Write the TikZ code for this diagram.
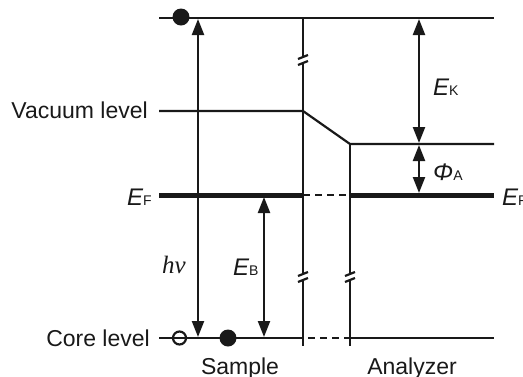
\documentclass[tikz,border=0pt]{standalone}
\usepackage{fontspec}
\setmainfont{Liberation Sans}
\newfontfamily\serifit{Liberation Serif}
\usetikzlibrary{arrows.meta}
\newcommand{\sub}[1]{{\fontsize{14}{14}\selectfont #1}}
\newcommand{\En}{{\fontsize{24}{26}\selectfont\itshape E}}
\tikzset{
  lvl/.style={line width=2.2pt, draw=black!90},
  fermi/.style={line width=5pt, draw=black!90},
  dashline/.style={line width=2.2pt, draw=black!90, dash pattern=on 7pt off 5pt},
  dashthick/.style={line width=2.5pt, draw=black!90, dash pattern=on 7pt off 5pt},
  vline/.style={line width=2.2pt, draw=black!90},
  dbl/.style={line width=2.2pt, draw=black!90, {Triangle[length=16pt,width=12pt]}-{Triangle[length=16pt,width=12pt]}},
  lab/.style={inner sep=0pt, font=\fontsize{23}{27}\selectfont, text=black!90},
  brk/.style={line width=2.2pt, draw=black!90},
  dot/.style={circle, fill=black!90, minimum size=17pt, inner sep=0pt},
  hole/.style={circle, draw=black!90, line width=2.2pt, minimum size=13pt, inner sep=0pt}
}
\begin{document}
\begin{tikzpicture}[x=1pt,y=-1pt]
\useasboundingbox (0,0) rectangle (523,376);
% coordinates
\coordinate (topL) at (159,18);
\coordinate (topR) at (494,18);
\coordinate (vacL) at (159,111);
\coordinate (vacS) at (303,111);
\coordinate (vacA) at (350,144);
\coordinate (vacR) at (494,144);
\coordinate (efL) at (159,195);
\coordinate (efS) at (303,195);
\coordinate (efA) at (350,195);
\coordinate (efR) at (494,195);
\coordinate (coreL) at (159,338);
\coordinate (coreS) at (303,338);
\coordinate (coreA) at (350,338);
\coordinate (coreR) at (494,338);
% levels
\draw[lvl] (topL) -- (topR);
\draw[lvl] (vacL) -- (vacS) -- (vacA) -- (vacR);
\draw[fermi] (efL) -- (efS);
\draw[dashthick] (efS) -- (efA);
\draw[fermi] (efA) -- (efR);
\draw[lvl] (coreL) -- (coreS);
\draw[dashline] ([xshift=5pt]coreS) -- (coreA);
\draw[lvl] (coreA) -- (coreR);
% verticals with breaks
\coordinate (sTop) at (303,17);
\coordinate (sB1a) at (303,56);
\coordinate (sB1b) at (303,64);
\coordinate (sB2a) at (303,273);
\coordinate (sB2b) at (303,281);
\coordinate (sBot) at (303,346);
\draw[vline] (sTop) -- (sB1a);
\draw[vline] (sB1b) -- (sB2a);
\draw[vline] (sB2b) -- (sBot);
\coordinate (aTop) at (350,143);
\coordinate (aB2a) at (350,273);
\coordinate (aB2b) at (350,281);
\coordinate (aBot) at (350,346);
\draw[vline] (aTop) -- (aB2a);
\draw[vline] (aB2b) -- (aBot);
\foreach \c in {sB1a,sB2a,aB2a}{
  \draw[brk] ([shift={(-5,3)}]\c) -- ([shift={(5,-1)}]\c);
}
\foreach \c in {sB1b,sB2b,aB2b}{
  \draw[brk] ([shift={(-5,1)}]\c) -- ([shift={(5,-3)}]\c);
}
% arrows
\coordinate (hvT) at (198,19);
\coordinate (hvB) at (198,337);
\draw[dbl] (hvT) -- (hvB);
\coordinate (ebT) at (264,197);
\coordinate (ebB) at (264,337);
\draw[dbl] (ebT) -- (ebB);
\coordinate (ekT) at (419,19);
\coordinate (ekB) at (419,143);
\draw[dbl] (ekT) -- (ekB);
\coordinate (paT) at (419,145);
\coordinate (paB) at (419,193);
\draw[dbl] (paT) -- (paB);
% electrons
\node[dot] (e1) at (181,17) {};
\node[hole] (h1) at (179.5,338) {};
\node[dot] (e2) at (228,338) {};
% labels
\node[lab, anchor=base east] (tvac) at (148,118) {Vacuum level};
\node[lab, anchor=base east] (tcore) at (150,346) {Core level};
\node[lab, anchor=base east] (tefl) at (152,205) {\En\sub{F}};
\node[lab, anchor=base west] (tefr) at (502,205) {\En\sub{F}};
\node[lab, anchor=base west] (tek) at (433,95) {\En\sub{K}};
\node[lab, anchor=base west] (tpa) at (433,180) {{\fontsize{24}{26}\selectfont\itshape Φ}\sub{A}};
\node[lab, anchor=base west] (teb) at (233,275) {\En\sub{B}};
\node[lab, anchor=base west] (thv) at (162,273) {{\fontsize{25}{27}\selectfont\serifit\itshape hν}};
\node[lab, anchor=base] (tsam) at (240,374.5) {Sample};
\node[lab, anchor=base] (tana) at (412,374.5) {Analyzer};
\end{tikzpicture}
\end{document}
